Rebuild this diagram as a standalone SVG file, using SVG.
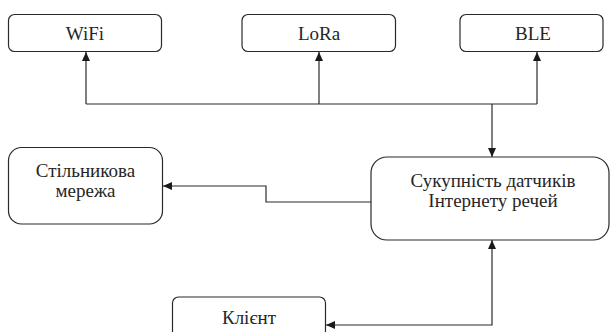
<svg xmlns="http://www.w3.org/2000/svg" width="611" height="332" viewBox="0 0 611 332">
<style>
.box{fill:#fff;stroke:#2a2a2a;stroke-width:1.2}
.con{fill:none;stroke:#2a2a2a;stroke-width:1.2}
</style>
<defs>
<marker id="ah" markerWidth="10" markerHeight="10" refX="9" refY="4" orient="auto" markerUnits="userSpaceOnUse">
<path d="M0,0 L9,4 L0,8 Z" fill="#1a1a1a"/>
</marker>
<marker id="ahs" markerWidth="10" markerHeight="10" refX="0" refY="4" orient="auto" markerUnits="userSpaceOnUse">
<path d="M9,0 L0,4 L9,8 Z" fill="#1a1a1a"/>
</marker>
</defs>
<g id="connectors">
<path class="con" d="M86,104 H537"/>
<path class="con" d="M86,104 V52" marker-end="url(#ah)"/>
<path class="con" d="M319,104 V52" marker-end="url(#ah)"/>
<path class="con" d="M537,104 V52" marker-end="url(#ah)"/>
<path class="con" d="M492,104 V157" marker-end="url(#ah)"/>
<path class="con" d="M371,202 H266 V186 H163" marker-end="url(#ah)"/>
<path class="con" d="M326,325 H492 V240" marker-start="url(#ahs)" marker-end="url(#ah)"/>
</g>
<g font-family="Liberation Serif, serif" font-size="19" fill="#262626" text-anchor="middle">
<g id="wifi">
<rect class="box" x="8.5" y="14.5" width="153" height="37" rx="6"/>
<text x="85" y="40">WiFi</text>
</g>
<g id="lora">
<rect class="box" x="242" y="14.5" width="153.5" height="37" rx="6"/>
<text x="319" y="40">LoRa</text>
</g>
<g id="ble">
<rect class="box" x="460" y="14.5" width="143" height="37" rx="6"/>
<text x="533" y="40">BLE</text>
</g>
<g id="cellular">
<rect class="box" x="8.5" y="147.5" width="154" height="76.5" rx="13"/>
<text x="85.5" y="177">Стільникова</text>
<text x="85.5" y="197">мережа</text>
</g>
<g id="iot">
<rect class="box" x="371" y="157" width="238" height="83" rx="16"/>
<text x="493" y="187">Сукупність датчиків</text>
<text x="493" y="207">Інтернету речей</text>
</g>
<g id="client">
<rect class="box" x="172.5" y="297" width="153" height="40" rx="6"/>
<text x="249" y="324">Клієнт</text>
</g>
</g>
</svg>
